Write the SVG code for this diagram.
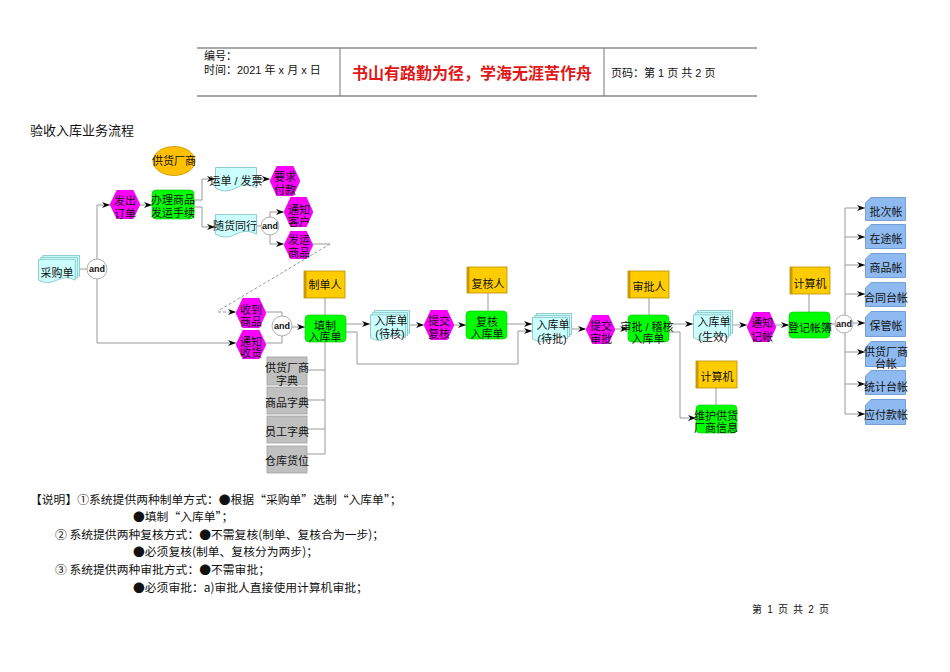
<svg xmlns="http://www.w3.org/2000/svg" xmlns:xlink="http://www.w3.org/1999/xlink" width="950" height="672" viewBox="0 0 950 672">
<style>
text{font-family:"Liberation Sans","Noto Sans CJK SC",sans-serif;fill:#111;}
.t{font-size:11px;text-anchor:middle;}
.hd{font-size:11px;}
.note{font-size:11.8px;font-family:"Noto Sans CJK SC","Liberation Sans",sans-serif;}
.and{font-size:9px;font-weight:bold;text-anchor:middle;font-family:"Liberation Sans",sans-serif;}
.hex{fill:#FF00FF;stroke:#D000D0;stroke-width:0.6;}
.proc{fill:#00FF00;stroke:#00C000;stroke-width:0.6;}
.role{fill:#FFCC00;stroke:#B89000;stroke-width:0.8;}
.dict{fill:#C0C0C0;stroke:#A0A0A0;stroke-width:0.8;}
.acct{fill:#8EBAF0;stroke:#5F8FCF;stroke-width:0.8;}
.andc{fill:#fff;stroke:#999;stroke-width:0.8;}
.conn path,.conn line{fill:none;stroke:#999;stroke-width:1;}
.arr{marker-end:url(#ah);}
.dash{stroke-dasharray:3,2;}
</style>
<defs>
<marker id="ah" viewBox="0 0 8 6" refX="8" refY="3" markerWidth="8" markerHeight="6" markerUnits="userSpaceOnUse" orient="auto">
<path d="M0,0 L8,3 L0,6 L2.5,3 Z" fill="#000"/>
</marker>
<symbol id="hexS" viewBox="0 0 30 30" preserveAspectRatio="none">
<polygon points="0,15 7,0 23,0 30,15 23,30 7,30" class="hex"/>
</symbol>
<symbol id="docS" viewBox="0 0 42 26" preserveAspectRatio="none">
<path d="M0.5,0.5 H41.5 V21 Q31.5,15 21,21 T0.5,21 Z" fill="#CCFFFF" stroke="#7FBFBF" stroke-width="0.8"/>
</symbol>
<symbol id="stackS" viewBox="0 0 40 30" preserveAspectRatio="none">
<path d="M4.5,0.5 H39.5 V22 Q31,17 22,22 T4.5,22 Z" fill="#CCFFFF" stroke="#7FBFBF" stroke-width="0.8"/>
<path d="M2.5,2.5 H37.5 V24 Q29,19 20,24 T2.5,24 Z" fill="#CCFFFF" stroke="#7FBFBF" stroke-width="0.8"/>
<path d="M0.5,4.5 H35.5 V26 Q27,21 18,26 T0.5,26 Z" fill="#CCFFFF" stroke="#7FBFBF" stroke-width="0.8"/>
</symbol>
<symbol id="acctS" viewBox="0 0 41 25" preserveAspectRatio="none">
<path d="M6,0.5 H40.5 V24.5 H0.5 V6 Z" class="acct"/>
</symbol>
</defs>
<rect width="950" height="672" fill="#fff"/>

<!-- header -->
<g id="header">
<line x1="197" y1="48" x2="757" y2="48" stroke="#555" stroke-width="1"/>
<line x1="197" y1="96" x2="757" y2="96" stroke="#888" stroke-width="1.6"/>
<line x1="340" y1="48" x2="340" y2="96" stroke="#777" stroke-width="1"/>
<line x1="604" y1="48" x2="604" y2="96" stroke="#777" stroke-width="1"/>
<text class="hd" x="204" y="60">编号：</text>
<text class="hd" x="204" y="74">时间：2021 年 x 月 x 日</text>
<text x="472" y="79" style="font-size:16px;text-anchor:middle;fill:#E01818;font-weight:bold;">书山有路勤为径，学海无涯苦作舟</text>
<text class="hd" x="611" y="77">页码：第 1 页  共 2 页</text>
</g>

<text x="30" y="135" style="font-size:13px;">验收入库业务流程</text>

<!-- connectors -->
<g id="connectors" class="conn">
<path d="M80,269 H87"/>
<path class="arr" d="M97,259 V205 H110"/>
<path class="arr" d="M97,279 V343 H236"/>
<path class="arr" d="M140,205 H152"/>
<path class="arr" d="M194,200 H202 V179 H215"/>
<path class="arr" d="M194,207 H202 V227 H215"/>
<path class="arr" d="M257,179 H270"/>
<path d="M257,226 H261"/>
<path class="arr" d="M270,217 V212 H284"/>
<path class="arr" d="M270,235 V244 H284"/>
<path d="M313,244 H330"/>
<path class="dash" d="M330,244 L218,311"/>
<path class="arr dash" d="M218,312 H236"/>
<path d="M266,312 H282 V316"/>
<path d="M266,343 H282 V336"/>
<path class="arr" d="M292,327 H305"/>
<path d="M325,298 V315"/>
<path d="M325,342 V454 M307,370 H325 M307,400 H325 M307,429 H325 M307,454 H325"/>
<path class="arr" d="M346,324 H370"/>
<path class="arr" d="M346,332 H357 V364 H518 V331 H532"/>
<path class="arr" d="M410,325 H424"/>
<path class="arr" d="M454,325 H466"/>
<path d="M488,293 V311"/>
<path class="arr" d="M507,324 H532"/>
<path class="arr" d="M571,329 H586"/>
<path class="arr" d="M615,329 H628"/>
<path d="M649,298 V315"/>
<path class="arr" d="M669,324 H693"/>
<path class="arr" d="M669,332 H680 V418 H696"/>
<path class="arr" d="M733,325 H747"/>
<path class="arr" d="M776,325 H789"/>
<path d="M809,294 V312"/>
<path d="M716,388 V405"/>
<path d="M830,324 H835"/>
<path d="M845,208 V315 M845,333 V414"/>
<path class="arr" d="M845,208 H865"/>
<path class="arr" d="M845,237 H865"/>
<path class="arr" d="M845,265 H865"/>
<path class="arr" d="M845,294 H865"/>
<path class="arr" d="M853,323 H865"/>
<path class="arr" d="M845,352 H865"/>
<path class="arr" d="M845,384 H865"/>
<path class="arr" d="M845,414 H865"/>
</g>

<!-- nodes -->
<g id="n-supplier"><ellipse cx="174" cy="161" rx="21" ry="14.5" fill="#FFC000" stroke="#C89600" stroke-width="0.8"/><text class="t" x="174" y="165">供货厂商</text></g>
<g id="n-order"><use xlink:href="#hexS" x="110" y="190" width="30" height="29"/><text class="t" x="125" y="205">发出</text><text class="t" x="125" y="218">订单</text></g>
<g id="n-ship"><rect class="proc" x="152" y="190" width="42" height="29" rx="4"/><text class="t" x="173" y="204">办理商品</text><text class="t" x="173" y="217">发运手续</text></g>
<g id="n-waybill"><use xlink:href="#docS" x="215" y="167" width="42" height="26"/><text class="t" x="236" y="185">运单 / 发票</text></g>
<g id="n-pay"><use xlink:href="#hexS" x="270" y="166" width="30" height="30"/><text class="t" x="285" y="181">要求</text><text class="t" x="285" y="194">付款</text></g>
<g id="n-with"><use xlink:href="#docS" x="215" y="214" width="42" height="25"/><text class="t" x="235" y="230">随货同行</text></g>
<g id="n-and2"><circle class="andc" cx="270" cy="226" r="9"/><text class="and" x="270" y="229">and</text></g>
<g id="n-notifycust"><use xlink:href="#hexS" x="284" y="197" width="29" height="30"/><text class="t" x="299" y="214">通知</text><text class="t" x="299" y="226">客户</text></g>
<g id="n-shipgoods"><use xlink:href="#hexS" x="284" y="231" width="29" height="28"/><text class="t" x="299" y="244">发运</text><text class="t" x="299" y="257">商品</text></g>
<g id="n-po"><use xlink:href="#stackS" x="38" y="255" width="42" height="29"/><text class="t" x="57" y="277">采购单</text></g>
<g id="n-and1"><circle class="andc" cx="97" cy="269" r="10"/><text class="and" x="97" y="272">and</text></g>
<g id="n-recv"><use xlink:href="#hexS" x="236" y="298" width="30" height="30"/><text class="t" x="251" y="314">收到</text><text class="t" x="251" y="326">商品</text></g>
<g id="n-notifyrecv"><use xlink:href="#hexS" x="236" y="330" width="30" height="29"/><text class="t" x="251" y="346">通知</text><text class="t" x="251" y="357">收货</text></g>
<g id="n-and3"><circle class="andc" cx="282" cy="326" r="10"/><text class="and" x="282" y="329">and</text></g>
<g id="n-maker"><rect class="role" x="304" y="271" width="41" height="27"/><rect x="304" y="271" width="2.5" height="27" fill="#C89A00"/><text class="t" x="325" y="289">制单人</text></g>
<g id="n-fill"><rect class="proc" x="305" y="315" width="41" height="27" rx="4"/><text class="t" x="325" y="330">填制</text><text class="t" x="325" y="341">入库单</text></g>
<g id="n-d1"><rect class="dict" x="267" y="357" width="40" height="28"/><text class="t" x="287" y="372">供货厂商</text><text class="t" x="287" y="385">字典</text></g>
<g id="n-d2"><rect class="dict" x="267" y="387" width="40" height="27"/><text class="t" x="287" y="407">商品字典</text></g>
<g id="n-d3"><rect class="dict" x="267" y="416" width="40" height="27"/><text class="t" x="287" y="436">员工字典</text></g>
<g id="n-d4"><rect class="dict" x="267" y="446" width="40" height="27"/><text class="t" x="287" y="465">仓库货位</text></g>
<g id="n-pending"><use xlink:href="#stackS" x="370" y="310" width="40" height="32"/><text class="t" x="391" y="325">入库单</text><text class="t" x="390" y="338">(待核)</text></g>
<g id="n-submitrev"><use xlink:href="#hexS" x="424" y="310" width="30" height="30"/><text class="t" x="439" y="325">提交</text><text class="t" x="439" y="338">复核</text></g>
<g id="n-review"><rect class="proc" x="466" y="311" width="41" height="28" rx="4"/><text class="t" x="487" y="326">复核</text><text class="t" x="487" y="338">入库单</text></g>
<g id="n-reviewer"><rect class="role" x="467" y="267" width="40" height="26"/><rect x="467" y="267" width="2.5" height="26" fill="#C89A00"/><text class="t" x="488" y="288">复核人</text></g>
<g id="n-topprove"><use xlink:href="#stackS" x="532" y="313" width="40" height="30"/><text class="t" x="553" y="329">入库单</text><text class="t" x="552" y="343">(待批)</text></g>
<g id="n-submitapp"><use xlink:href="#hexS" x="586" y="315" width="29" height="29"/><text class="t" x="601" y="330">提交</text><text class="t" x="601" y="343">审批</text></g>
<g id="n-approve"><rect class="proc" x="628" y="315" width="41" height="27" rx="4"/><text class="t" x="647" y="331">审批 / 稽核</text><text class="t" x="648" y="343">入库单</text></g>
<g id="n-approver"><rect class="role" x="628" y="271" width="41" height="27"/><rect x="628" y="271" width="2.5" height="27" fill="#C89A00"/><text class="t" x="649" y="291">审批人</text></g>
<g id="n-valid"><use xlink:href="#stackS" x="693" y="310" width="40" height="32"/><text class="t" x="714" y="326">入库单</text><text class="t" x="713" y="341">(生效)</text></g>
<g id="n-notifyacc"><use xlink:href="#hexS" x="747" y="312" width="29" height="30"/><text class="t" x="762" y="327">通知</text><text class="t" x="762" y="341">记帐</text></g>
<g id="n-book"><rect class="proc" x="789" y="312" width="41" height="26" rx="4"/><text class="t" x="810" y="332">登记帐簿</text></g>
<g id="n-pc1"><rect class="role" x="790" y="267" width="40" height="27"/><rect x="790" y="267" width="2.5" height="27" fill="#C89A00"/><text class="t" x="810" y="288">计算机</text></g>
<g id="n-and4"><circle class="andc" cx="844" cy="324" r="9"/><text class="and" x="844" y="327">and</text></g>
<g id="n-pc2"><rect class="role" x="696" y="361" width="41" height="27"/><rect x="696" y="361" width="2.5" height="27" fill="#C89A00"/><text class="t" x="717" y="381">计算机</text></g>
<g id="n-maint"><rect class="proc" x="696" y="405" width="41" height="28" rx="4"/><text class="t" x="716" y="420">维护供货</text><text class="t" x="716" y="432">厂商信息</text></g>
<g id="n-a1"><use xlink:href="#acctS" x="865" y="197" width="41" height="24"/><text class="t" x="886" y="216">批次帐</text></g>
<g id="n-a2"><use xlink:href="#acctS" x="865" y="224" width="41" height="25"/><text class="t" x="886" y="243">在途帐</text></g>
<g id="n-a3"><use xlink:href="#acctS" x="865" y="253" width="41" height="25"/><text class="t" x="886" y="272">商品帐</text></g>
<g id="n-a4"><use xlink:href="#acctS" x="865" y="282" width="41" height="25"/><text class="t" x="886" y="302">合同台帐</text></g>
<g id="n-a5"><use xlink:href="#acctS" x="865" y="311" width="41" height="26"/><text class="t" x="886" y="330">保管帐</text></g>
<g id="n-a6"><use xlink:href="#acctS" x="865" y="341" width="41" height="26"/><text class="t" x="886" y="356">供货厂商</text><text class="t" x="886" y="368">台帐</text></g>
<g id="n-a7"><use xlink:href="#acctS" x="865" y="370" width="41" height="25"/><text class="t" x="886" y="391">统计台帐</text></g>
<g id="n-a8"><use xlink:href="#acctS" x="865" y="399" width="41" height="26"/><text class="t" x="886" y="419">应付款帐</text></g>

<!-- notes -->
<g id="notes">
<text class="note" x="30" y="504">【说明】①系统提供两种制单方式：●根据“采购单”选制“入库单”；</text>
<text class="note" x="133" y="521">●填制“入库单”；</text>
<text class="note" x="55" y="539">② 系统提供两种复核方式：●不需复核(制单、复核合为一步)；</text>
<text class="note" x="133" y="556">●必须复核(制单、复核分为两步)；</text>
<text class="note" x="55" y="574">③ 系统提供两种审批方式：●不需审批；</text>
<text class="note" x="133" y="592">●必须审批：a)审批人直接使用计算机审批；</text>
</g>
<text x="752" y="613" style="font-size:10px;letter-spacing:1.2px;">第 1 页 共 2 页</text>
</svg>
